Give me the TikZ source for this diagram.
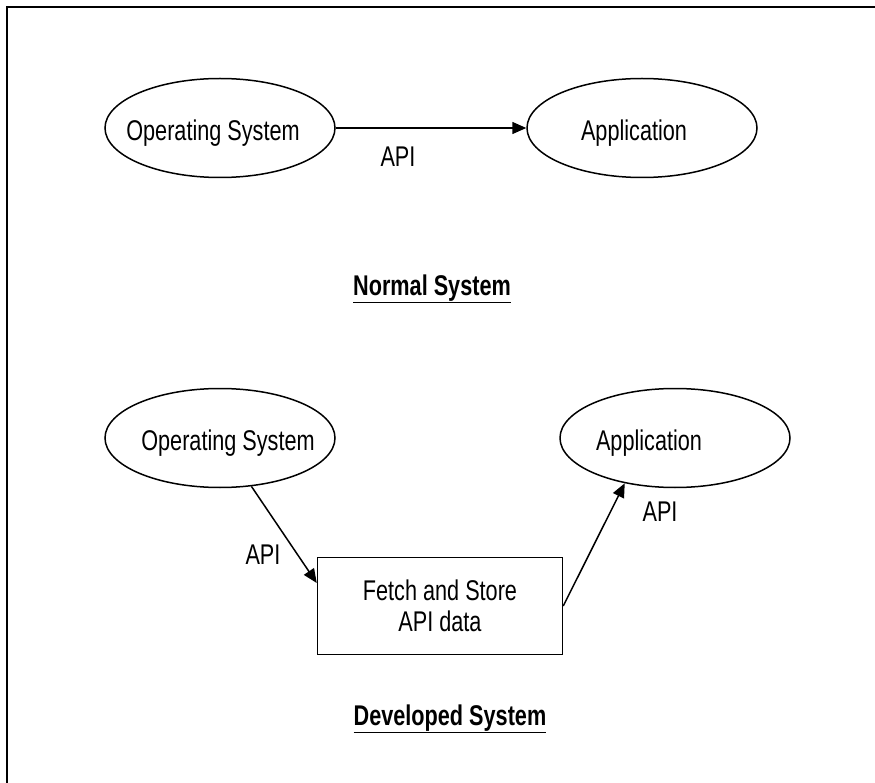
\documentclass[tikz,border=0pt]{standalone}
\usepackage{fontspec}
\setmainfont{Liberation Sans}[FakeStretch=0.76]
\usetikzlibrary{shapes.geometric,arrows.meta,calc}
\begin{document}
\begin{tikzpicture}[x=1pt,y=-1pt,
  oval/.style={ellipse,draw,line width=1.5pt,minimum width=230pt,minimum height=99pt,inner sep=0pt},
  labeltext/.style={font=\fontsize{28.5}{31}\selectfont,inner sep=0pt},
  procbox/.style={draw,line width=1.5pt,minimum width=245pt,minimum height=97pt,inner sep=0pt,align=center,font=\fontsize{28.5}{31}\selectfont},
  title/.style={font=\fontsize{28.5}{31}\selectfont\bfseries,inner sep=0pt},
  link/.style={line width=1.5pt,-{Triangle[length=14pt,width=12pt]}}]
\useasboundingbox (0,0) rectangle (875,783);
% page frame (top and left edges)
\draw[line width=2.5pt] (7,783) -- (7,7) -- (875,7);

% normal system
\node[oval] (osA) at (220,128) {};
\node[labeltext] (osAtxt) at (213,133) {Operating System};
\node[oval] (appA) at (642,128) {};
\node[labeltext] (appAtxt) at (634,133) {Application};
\draw[link] (osA.east) -- (appA.west);
\node[labeltext] (apiA) at (398,157) {API};
\node[title] (normal) at (432,289) {\underline{Normal System}};

% developed system
\node[oval] (osB) at (220,438) {};
\node[labeltext] (osBtxt) at (228,443) {Operating System};
\node[oval] (appB) at (675,438) {};
\node[labeltext] (appBtxt) at (649,443) {Application};
\node[procbox] (store) at (440,606) {Fetch and Store\\API data};
\draw[link] (osB.-57.5) -- ($(store.west)+(0,-23)$);
\draw[link] (store.east) -- (appB.-138);
\node[labeltext] (apiB) at (263,555) {API};
\node[labeltext] (apiC) at (660,512) {API};
\node[title] (developed) at (450,719) {\underline{Developed System}};
\end{tikzpicture}
\end{document}
